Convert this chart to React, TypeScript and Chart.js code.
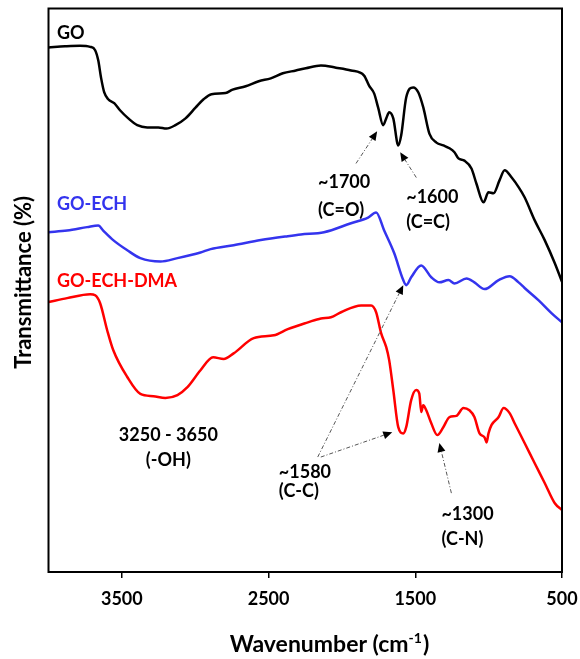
import React, { useEffect, useRef } from 'react';
import { Chart, registerables } from 'chart.js';

Chart.register(...registerables);

if (typeof document !== 'undefined') {
  document.body.style.margin = '0';
  document.documentElement.style.overflow = 'hidden';
}

const FONT = 'Lato, "Open Sans", sans-serif';

// x axis ticks (wavenumber, cm-1)
const xTicks = [3500, 2500, 1500, 500];

// GO (black)
const goWavenumbers = [4000, 3887, 3785, 3716, 3682, 3661, 3641, 3620, 3593, 3552, 3511, 3456, 3395, 3327, 3251, 3196, 3135, 3066, 2998, 2943, 2889, 2793, 2745, 2656, 2567, 2485, 2403, 2314, 2246, 2143, 2041, 1938, 1849, 1815, 1780, 1753, 1719, 1698, 1678, 1650, 1616, 1596, 1562, 1514, 1479, 1445, 1404, 1356, 1308, 1267, 1233, 1206, 1165, 1117, 1083, 1035, 1001, 967, 926, 891, 843, 796, 755, 686, 618, 549, 500];
const goValues = [93.1, 93.3, 93.4, 93.2, 92.6, 90.8, 87.6, 85.1, 83.9, 83.2, 81.9, 80.5, 79.3, 78.9, 78.9, 78.7, 79.3, 80.5, 82.4, 83.9, 84.8, 85.0, 85.6, 86.2, 87.1, 87.6, 88.5, 89.0, 89.4, 89.9, 89.5, 89.0, 88.1, 86.3, 84.9, 82.4, 79.3, 80.5, 81.6, 80.5, 75.7, 77.5, 84.2, 86.0, 85.1, 82.4, 77.8, 76.2, 75.7, 75.2, 74.5, 73.4, 73.0, 71.6, 68.9, 65.6, 67.4, 67.2, 69.5, 71.3, 70.0, 68.3, 66.5, 62.4, 58.9, 54.8, 51.5];

// GO-ECH (blue)
const echWavenumbers = [4000, 3873, 3737, 3661, 3627, 3559, 3463, 3374, 3237, 3121, 2964, 2895, 2738, 2553, 2369, 2280, 2122, 1938, 1822, 1767, 1712, 1644, 1582, 1562, 1528, 1460, 1391, 1336, 1274, 1233, 1151, 1097, 1028, 932, 857, 796, 755, 659, 570, 500];
const echValues = [60.3, 60.6, 61.2, 61.5, 60.6, 58.9, 57.1, 55.7, 55.1, 55.7, 56.7, 57.3, 58.0, 58.9, 59.6, 59.9, 60.3, 61.9, 62.9, 63.8, 60.6, 56.6, 51.8, 50.9, 52.3, 54.4, 52.3, 51.4, 51.8, 51.2, 52.1, 51.4, 50.2, 51.8, 52.5, 51.4, 50.4, 48.2, 45.9, 44.3];

// GO-ECH-DMA (red)
const dmaWavenumbers = [4000, 3873, 3716, 3682, 3648, 3600, 3559, 3463, 3374, 3285, 3203, 3121, 3053, 2964, 2878, 2806, 2738, 2601, 2464, 2369, 2232, 2143, 2075, 2006, 1869, 1801, 1767, 1733, 1698, 1678, 1650, 1616, 1582, 1562, 1528, 1494, 1473, 1459, 1446, 1425, 1391, 1350, 1309, 1267, 1220, 1172, 1131, 1097, 1062, 1028, 1014, 1001, 980, 932, 898, 857, 823, 755, 686, 618, 549, 500];
const dmaValues = [47.9, 48.6, 49.3, 49.1, 47.7, 42.9, 39.4, 34.6, 31.6, 31.2, 30.9, 31.4, 32.8, 35.8, 38.1, 37.8, 38.8, 41.5, 42.0, 43.1, 44.3, 45.0, 45.2, 46.1, 47.3, 47.3, 46.1, 42.4, 39.9, 37.6, 32.3, 25.7, 24.6, 25.7, 30.5, 32.3, 31.7, 28.4, 29.6, 28.7, 26.4, 24.3, 25.7, 27.5, 27.7, 29.1, 28.7, 27.5, 24.6, 23.9, 23.0, 24.6, 26.1, 27.5, 29.1, 28.2, 26.4, 22.9, 19.3, 15.8, 12.2, 11.0];

const seriesNames = ['GO', 'GO-ECH', 'GO-ECH-DMA'];
const seriesColors = ['#000000', '#3434EE', '#FF0000'];
// label anchors in data units (wavenumber, value)
const nameAnchors: [number, number][] = [[3942, 95.6], [3942, 65.2], [3942, 51.6]];

const bandNotes = [
  { text: ['~1700', '(C=O)'], x: 2163, y: [69.1, 64.2], align: 'left' },
  { text: ['~1600', '(C=C)'], x: 1562, y: [66.6, 62.1], align: 'left' },
  { text: ['3250 - 3650', '(-OH)'], x: 3183, y: [24.2, 19.8], align: 'center' },
  { text: ['~1580', '(C-C)'], x: 2430, y: [17.7, 14.4], align: 'left' },
  { text: ['~1300', '(C-N)'], x: 1322, y: [10.2, 5.8], align: 'left' },
];
// arrows: tail (wn, value) -> tip (wn, value)
const arrows: [number, number, number, number][] = [
  [1904, 72.5, 1760, 78.2],
  [1493, 70.0, 1603, 74.5],
  [2165, 20.4, 1582, 50.9],
  [2144, 20.4, 1657, 24.8],
  [1254, 14.0, 1336, 22.9],
];

const yTitle = 'Transmittance (%)';
const xTitleMain = 'Wavenumber (cm';
const xTitleSup = '-1';
const xTitleEnd = ')';

function drawArrow(ctx: CanvasRenderingContext2D, x1: number, y1: number, x2: number, y2: number) {
  const ang = Math.atan2(y2 - y1, x2 - x1);
  const hl = 9;
  const hw = 4;
  const bx = x2 - hl * Math.cos(ang);
  const by = y2 - hl * Math.sin(ang);
  ctx.save();
  ctx.strokeStyle = '#555555';
  ctx.lineWidth = 1;
  ctx.setLineDash([4, 2, 1, 2]);
  ctx.beginPath();
  ctx.moveTo(x1, y1);
  ctx.lineTo(bx, by);
  ctx.stroke();
  ctx.setLineDash([]);
  ctx.fillStyle = '#000000';
  ctx.beginPath();
  ctx.moveTo(x2, y2);
  ctx.lineTo(bx + hw * Math.sin(ang), by - hw * Math.cos(ang));
  ctx.lineTo(bx - hw * Math.sin(ang), by + hw * Math.cos(ang));
  ctx.closePath();
  ctx.fill();
  ctx.restore();
}

export default function App() {
  const ref = useRef<HTMLCanvasElement | null>(null);

  useEffect(() => {
    if (!ref.current) return;
    const toPts = (xs: number[], ys: number[]) => xs.map((x, i) => ({ x, y: ys[i] }));

    const annot = {
      id: 'annot',
      afterDatasetsDraw(chart: any) {
        const ctx: CanvasRenderingContext2D = chart.ctx;
        const xs = chart.scales.x;
        const ys = chart.scales.y;
        const { left, right, top, bottom } = chart.chartArea;
        ctx.save();
        // frame
        ctx.strokeStyle = '#000';
        ctx.lineWidth = 2;
        ctx.strokeRect(left, top, right - left, bottom - top);

        // series names
        ctx.font = `bold 18px ${FONT}`;
        ctx.textBaseline = 'middle';
        ctx.textAlign = 'left';
        seriesNames.forEach((n, i) => {
          ctx.fillStyle = seriesColors[i];
          ctx.fillText(n, xs.getPixelForValue(nameAnchors[i][0]), ys.getPixelForValue(nameAnchors[i][1]));
        });

        // band notes
        ctx.fillStyle = '#000';
        bandNotes.forEach((b) => {
          ctx.textAlign = b.align as CanvasTextAlign;
          b.text.forEach((t, j) => {
            ctx.fillText(t, xs.getPixelForValue(b.x), ys.getPixelForValue(b.y[j]));
          });
        });

        arrows.forEach((a) => {
          drawArrow(ctx, xs.getPixelForValue(a[0]), ys.getPixelForValue(a[1]), xs.getPixelForValue(a[2]), ys.getPixelForValue(a[3]));
        });

        // y title
        ctx.save();
        ctx.fillStyle = '#000';
        ctx.font = `bold 22px ${FONT}`;
        ctx.textAlign = 'center';
        ctx.textBaseline = 'middle';
        ctx.translate(left - 24.5, ys.getPixelForValue(51.4));
        ctx.rotate(-Math.PI / 2);
        ctx.fillText(yTitle, 0, 0);
        ctx.restore();

        // x title with superscript
        const mainFont = `bold 23px ${FONT}`;
        const supFont = `bold 14px ${FONT}`;
        ctx.font = mainFont;
        const w1 = ctx.measureText(xTitleMain).width;
        const w3 = ctx.measureText(xTitleEnd).width;
        ctx.font = supFont;
        const w2 = ctx.measureText(xTitleSup).width;
        const total = w1 + w2 + w3 + 1;
        const cx = xs.getPixelForValue(2085);
        const base = bottom + 79.5;
        let x0 = cx - total / 2;
        ctx.textAlign = 'left';
        ctx.textBaseline = 'alphabetic';
        ctx.font = mainFont;
        ctx.fillText(xTitleMain, x0, base);
        x0 += w1;
        ctx.font = supFont;
        ctx.fillText(xTitleSup, x0, base - 9);
        x0 += w2 + 1;
        ctx.font = mainFont;
        ctx.fillText(xTitleEnd, x0, base);
        ctx.restore();
      },
    };

    const chart = new Chart(ref.current, {
      type: 'line',
      data: {
        datasets: [
          { label: seriesNames[2], data: toPts(dmaWavenumbers, dmaValues), borderColor: seriesColors[2], borderWidth: 2.5, pointRadius: 0, cubicInterpolationMode: 'monotone', fill: false },
          { label: seriesNames[1], data: toPts(echWavenumbers, echValues), borderColor: seriesColors[1], borderWidth: 2.5, pointRadius: 0, cubicInterpolationMode: 'monotone', fill: false },
          { label: seriesNames[0], data: toPts(goWavenumbers, goValues), borderColor: seriesColors[0], borderWidth: 2.5, pointRadius: 0, cubicInterpolationMode: 'monotone', fill: false },
        ],
      },
      options: {
        animation: false,
        responsive: true,
        maintainAspectRatio: false,
        layout: { padding: { left: 48.5, right: 18, top: 8.5, bottom: 0 } },
        plugins: { legend: { display: false }, tooltip: { enabled: false } },
        scales: {
          x: {
            type: 'linear',
            reverse: true,
            min: 500,
            max: 4000,
            afterBuildTicks: (s: any) => {
              s.ticks = xTicks.map((v) => ({ value: v }));
            },
            afterFit: (s: any) => {
              s.height = 87;
              s.paddingLeft = 0;
              s.paddingRight = 0;
            },
            grid: { drawOnChartArea: false, drawTicks: true, tickLength: 6, color: '#000', lineWidth: 1.5 },
            border: { display: false },
            ticks: {
              font: { family: FONT, size: 18, weight: 'bold' },
              color: '#000',
              padding: 10,
              maxRotation: 0,
              autoSkip: false,
              callback: (v: any) => String(v),
            },
          },
          y: { display: false, min: 0, max: 100 },
        },
      },
      plugins: [annot],
    } as any);
    return () => chart.destroy();
  }, []);

  return (
    <div style={{ width: 580, height: 659, position: 'relative' }}>
      <canvas ref={ref} />
    </div>
  );
}
